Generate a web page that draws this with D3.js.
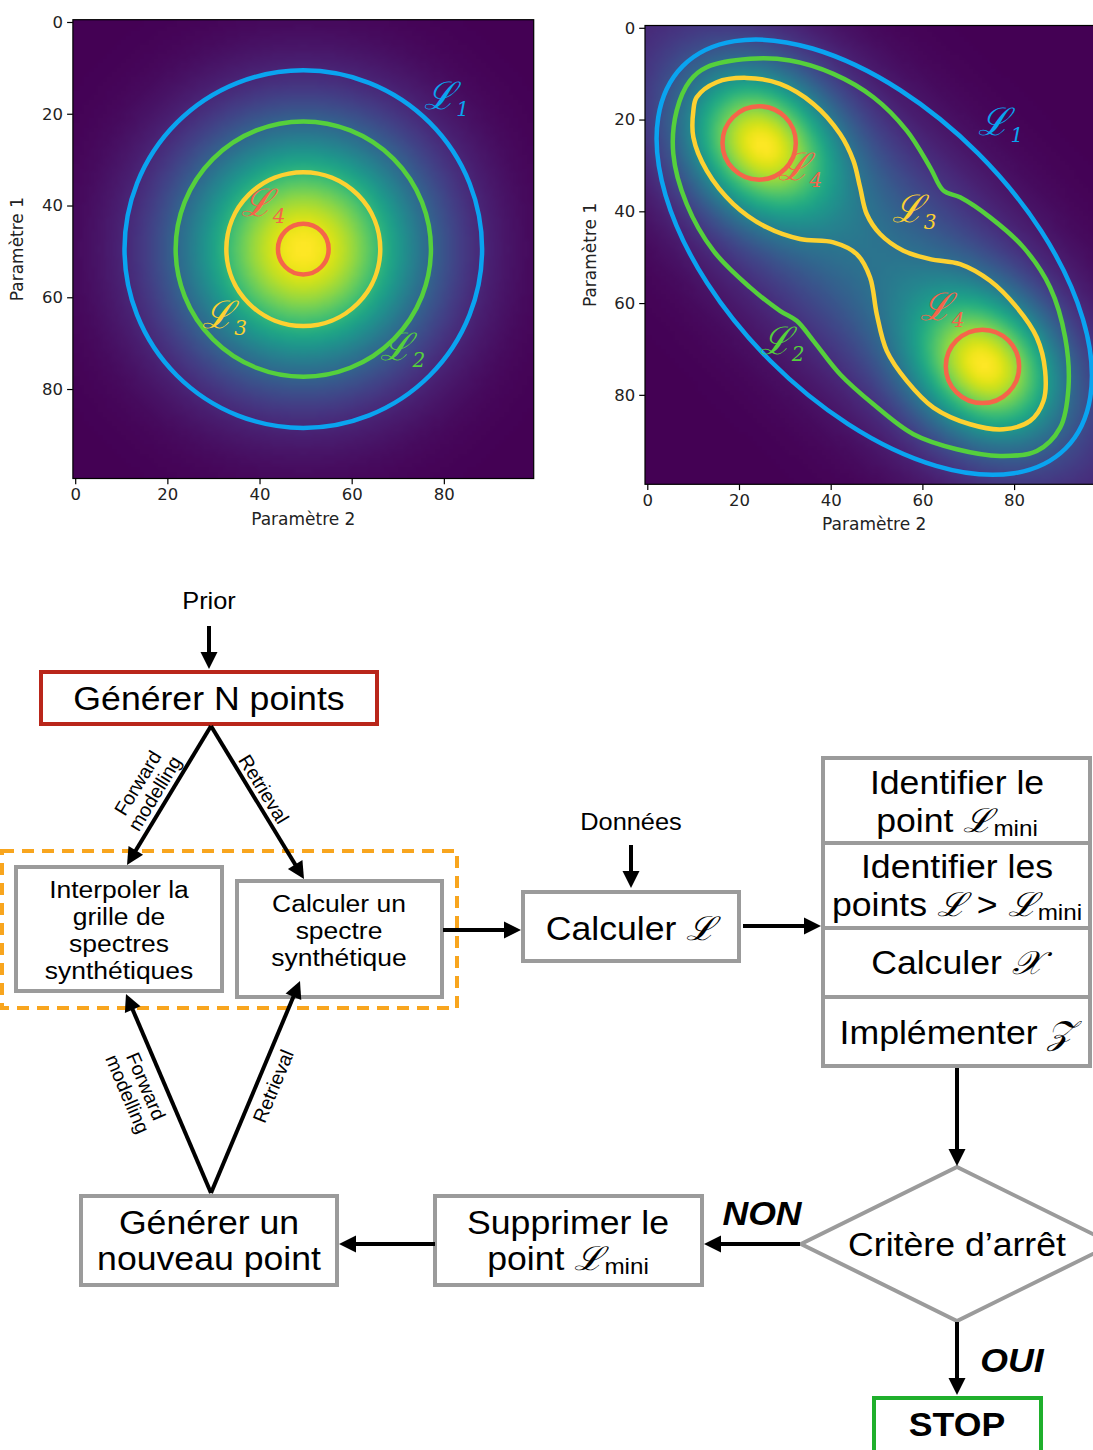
<!DOCTYPE html>
<html><head><meta charset="utf-8">
<script src="https://cdn.jsdelivr.net/npm/d3@7"></script>
<style>body{margin:0;background:#fff} svg{display:block}</style>
</head><body>
<script>
// ---------------- DATA ----------------
const gridSize = 100;
const tickValues = [0, 20, 40, 60, 80];
const xAxisLabel = "Paramètre 2";
const yAxisLabel = "Paramètre 1";
const contourSubs = ["1", "2", "3", "4"];
const contourColors = ["#0aa4f0", "#55d03c", "#fdd131", "#f5654a"];

// left panel : one round gaussian
const leftPeakCenter = [49.5, 49.5];          // [col,row]
const leftPeakSigma = 18.5;
const leftContourRadii = [38.8, 27.7, 16.7, 5.5];
const leftLabelPos = [[80.6, 16.5], [71.1, 71.2], [32.4, 64.2], [40.8, 39.8]];
const leftLabelIdx = [0, 1, 2, 3];

// right panel : two peaks + elongated background
const rightPeakCenters = [[24.5, 25], [74, 74]];
const rightPeakSigmas = [12, 10];            // along diagonal, across
const rightBackground = [0.5, 45, 16];       // amplitude, sigma along, sigma across
const rightOuterEllipse = [49.5, 50.0, 59, 32]; // col,row,semi-major,semi-minor (45°)
const rightGreen = [[12.96,8.59],[22.41,6.77],[31.14,7.14],[40.59,10.05],[49.32,15.14],[56.59,22.41],
  [61.68,30.41],[64.59,35.5],[68.23,36.95],[74.77,41.32],[82.05,47.86],[87.86,56.59],[91.14,67.5],
  [91.86,78.41],[90.05,87.14],[84.95,92.23],[76.95,93.32],[67.5,91.86],[58.05,88.59],[49.32,82.05],
  [42.05,75.5],[36.23,68.23],[32.59,63.86],[28.95,61.68],[22.41,56.59],[14.41,48.59],[8.59,38.41],
  [5.68,27.5],[6.41,18.05],[9.32,11.5]];
const rightYellow = [[10.77,15.14],[15.14,11.86],[21.68,10.92],[28.95,12.23],[36.23,16.59],[42.05,23.14],
  [44.95,28.95],[46.41,34.77],[47.86,40.59],[50.77,44.95],[55.86,48.59],[61.68,50.41],[68.23,51.5],
  [74.77,55.14],[80.59,60.95],[84.95,67.5],[86.77,74.77],[86.41,81.32],[83.5,85.68],[77.68,87.5],
  [70.41,86.41],[62.41,82.77],[56.59,76.95],[52.23,70.41],[50.05,62.41],[48.59,54.41],[45.68,49.32],
  [40.59,46.77],[33.32,46.05],[26.05,43.5],[18.77,38.41],[12.96,31.14],[10.05,23.86],[10.05,18.05]];
const rightRedCenters = [[24.4, 25.1], [73.1, 73.8]];
const rightRedRadius = 8.0;
const rightLabelPos = [[77.1, 21.0], [29.4, 68.6], [58.2, 40.0], [33.3, 30.8], [64.3, 61.3]];
const rightLabelIdx = [0, 1, 2, 3, 3];

// ---------------- SETUP ----------------
const W = 1093, H = 1450;
const svg = d3.select("body").append("svg").attr("width", W).attr("height", H)
  .style("background", "#fff");
const MPL = "DejaVu Sans";
const FLOW = "Liberation Sans, Arial, Helvetica, sans-serif";
const SCRIPT = "DejaVu Serif";
const SX = 1.08; // horizontal stretch of the flowchart lettering

function makePanel(box, fieldFn, ylabX) {
  const x = d3.scaleLinear().domain([-0.5, 99.5]).range([box[0], box[0] + box[2]]);
  const y = d3.scaleLinear().domain([-0.5, 99.5]).range([box[1], box[1] + box[3]]);
  const g = svg.append("g");
  const n = gridSize, vals = new Float64Array(n * n);
  for (let r = 0; r < n; r++) for (let c = 0; c < n; c++) vals[r * n + c] = fieldFn(c, r);
  const color = d3.scaleSequential(d3.interpolateViridis).domain(d3.extent(vals));
  const cv = document.createElement("canvas"); cv.width = n; cv.height = n;
  const ctx = cv.getContext("2d"); const im = ctx.createImageData(n, n);
  vals.forEach((v, i) => { const c = d3.rgb(color(v)); im.data[4*i] = c.r; im.data[4*i+1] = c.g; im.data[4*i+2] = c.b; im.data[4*i+3] = 255; });
  ctx.putImageData(im, 0, 0);
  g.append("image").attr("x", x(-0.5)).attr("y", y(-0.5))
    .attr("width", x(99.5) - x(-0.5)).attr("height", y(99.5) - y(-0.5))
    .attr("preserveAspectRatio", "none").attr("href", cv.toDataURL());
  const ax = g.append("g").attr("transform", `translate(0,${y(99.5)})`)
    .call(d3.axisBottom(x).tickValues(tickValues).tickSize(5.8).tickPadding(4).tickFormat(d3.format("d")));
  const ay = g.append("g").attr("transform", `translate(${x(-0.5)},0)`)
    .call(d3.axisLeft(y).tickValues(tickValues).tickSize(5.8).tickPadding(4).tickFormat(d3.format("d")));
  [ax, ay].forEach(a => {
    a.select(".domain").remove();
    a.selectAll("line").attr("stroke", "#000").attr("stroke-width", 1.2);
    a.selectAll("text").attr("font-family", MPL).attr("font-size", 16.5).attr("fill", "#222");
  });
  g.append("rect").attr("x", x(-0.5)).attr("y", y(-0.5))
    .attr("width", x(99.5) - x(-0.5)).attr("height", y(99.5) - y(-0.5))
    .attr("fill", "none").attr("stroke", "#000").attr("stroke-width", 1.2);
  g.append("text").attr("x", (x(-0.5) + x(99.5)) / 2).attr("y", y(99.5) + 46)
    .attr("text-anchor", "middle").attr("font-family", MPL).attr("font-size", 17).attr("fill", "#222").text(xAxisLabel);
  g.append("text").attr("transform", `translate(${ylabX},${(y(-0.5) + y(99.5)) / 2}) rotate(-90)`)
    .attr("text-anchor", "middle").attr("font-family", MPL).attr("font-size", 17).attr("fill", "#222").text(yAxisLabel);
  return { g, x, y };
}

function drawLabel(p, pos, idx) {
  const t = p.g.append("text").attr("x", p.x(pos[0])).attr("y", p.y(pos[1]) + 11)
    .attr("text-anchor", "middle").attr("fill", contourColors[idx])
    .attr("font-family", SCRIPT).attr("font-style", "italic").attr("font-size", 38);
  t.append("tspan").text("ℒ");
  t.append("tspan").attr("font-size", 20).attr("dy", 7).text(contourSubs[idx]);
}

// ---------------- LEFT PANEL ----------------
const leftField = (c, r) => Math.exp(-((c - leftPeakCenter[0]) ** 2 + (r - leftPeakCenter[1]) ** 2) / (2 * leftPeakSigma ** 2));
const L = makePanel([72.9, 19.7, 460.8, 458.8], leftField, 23);
L.g.selectAll("circle.cont").data(leftContourRadii).join("circle")
  .attr("cx", L.x(leftPeakCenter[0])).attr("cy", L.y(leftPeakCenter[1]))
  .attr("r", d => L.x(leftPeakCenter[0] + d) - L.x(leftPeakCenter[0]))
  .attr("fill", "none").attr("stroke", (d, i) => contourColors[i]).attr("stroke-width", 4.5);
leftLabelPos.forEach((p, i) => drawLabel(L, p, leftLabelIdx[i]));

// ---------------- RIGHT PANEL ----------------
const S2 = Math.SQRT2;
const rightField = (c, r) => {
  let v = 0;
  rightPeakCenters.forEach(pc => {
    const dc = c - pc[0], dr = r - pc[1];
    const u = (dc + dr) / S2, w = (dc - dr) / S2;
    v += Math.exp(-(u * u) / (2 * rightPeakSigmas[0] ** 2) - (w * w) / (2 * rightPeakSigmas[1] ** 2));
  });
  const dc = c - 49.5, dr = r - 49.5;
  const u = (dc + dr) / S2, w = (dc - dr) / S2;
  v += rightBackground[0] * Math.exp(-(u * u) / (2 * rightBackground[1] ** 2) - (w * w) / (2 * rightBackground[2] ** 2));
  return v;
};
const R = makePanel([645, 25.5, 458.5, 458.8], rightField, 596);
const [ec, er, ea, eb] = rightOuterEllipse;
R.g.append("ellipse").attr("cx", R.x(ec)).attr("cy", R.y(er))
  .attr("rx", R.x(ec + ea) - R.x(ec)).attr("ry", R.y(er + eb) - R.y(er))
  .attr("transform", `rotate(45,${R.x(ec)},${R.y(er)})`)
  .attr("fill", "none").attr("stroke", contourColors[0]).attr("stroke-width", 4.5);
const closedLine = d3.line().x(d => R.x(d[0])).y(d => R.y(d[1])).curve(d3.curveCatmullRomClosed.alpha(0.5));
R.g.append("path").attr("d", closedLine(rightGreen)).attr("fill", "none").attr("stroke", contourColors[1]).attr("stroke-width", 4.5);
R.g.append("path").attr("d", closedLine(rightYellow)).attr("fill", "none").attr("stroke", contourColors[2]).attr("stroke-width", 4.5);
R.g.selectAll("circle.red").data(rightRedCenters).join("circle")
  .attr("cx", d => R.x(d[0])).attr("cy", d => R.y(d[1]))
  .attr("r", R.x(rightRedRadius) - R.x(0))
  .attr("fill", "none").attr("stroke", contourColors[3]).attr("stroke-width", 4.5);
rightLabelPos.forEach((p, i) => drawLabel(R, p, rightLabelIdx[i]));

// ---------------- FLOWCHART ----------------
const GRAY = "#9b9b9b";
const fc = svg.append("g");
fc.append("rect").attr("x", 2).attr("y", 851).attr("width", 455).attr("height", 157)
  .attr("fill", "none").attr("stroke", "#f8a51e").attr("stroke-width", 4).attr("stroke-dasharray", "12,8");

// boxes: [x,y,w,h,stroke]
const boxes = [
  [41, 672, 336, 52, "#b9261a"],
  [16, 867, 206, 124, GRAY],
  [237, 881, 205, 116, GRAY],
  [523, 892, 216, 69, GRAY],
  [823, 758, 267, 85, GRAY],
  [823, 843, 267, 85, GRAY],
  [823, 928, 267, 69, GRAY],
  [823, 997, 267, 69, GRAY],
  [435, 1196, 267, 89, GRAY],
  [81, 1196, 256, 89, GRAY],
  [874, 1398, 167, 60, "#1faf2c"]
];
fc.selectAll("rect.box").data(boxes).join("rect")
  .attr("x", d => d[0]).attr("y", d => d[1]).attr("width", d => d[2]).attr("height", d => d[3])
  .attr("fill", "#fff").attr("stroke", d => d[4]).attr("stroke-width", 4);
fc.append("path").attr("d", "M957,1167 L1113,1244 L957,1321 L801,1244 Z")
  .attr("fill", "#fff").attr("stroke", GRAY).attr("stroke-width", 4);

// texts: [cx, cy, size, segments, weight, style]
const texts = [
  [209, 601, 23.5, [["Prior", "n"]]],
  [631, 822, 23.5, [["Données", "n"]]],
  [209, 698, 33, [["Générer N points", "n"]]],
  [119, 889, 24.5, [["Interpoler la", "n"]]],
  [119, 916, 24.5, [["grille de", "n"]]],
  [119, 943, 24.5, [["spectres", "n"]]],
  [119, 970, 24.5, [["synthétiques", "n"]]],
  [339, 903, 24.5, [["Calculer un", "n"]]],
  [339, 930, 24.5, [["spectre", "n"]]],
  [339, 957, 24.5, [["synthétique", "n"]]],
  [631, 928, 33, [["Calculer ", "n"], ["ℒ", "L"]]],
  [957, 782, 33, [["Identifier le", "n"]]],
  [957, 820, 33, [["point ", "n"], ["ℒ", "L"], ["mini", "s"]]],
  [957, 866, 33, [["Identifier les", "n"]]],
  [957, 904, 33, [["points  ", "n"], ["ℒ", "L"], [" > ", "n"], ["ℒ", "L"], ["mini", "s"]]],
  [957, 962, 33, [["Calculer ", "n"], ["𝒳", "L"]]],
  [957, 1032, 33, [["Implémenter ", "n"], ["𝒵", "L"]]],
  [957, 1244, 33, [["Critère d’arrêt", "n"]]],
  [568, 1222, 33, [["Supprimer le", "n"]]],
  [568, 1258, 33, [["point ", "n"], ["ℒ", "L"], ["mini", "s"]]],
  [209, 1222, 33, [["Générer un", "n"]]],
  [209, 1258, 33, [["nouveau point", "n"]]],
  [762, 1213, 33, [["NON", "n"]], "bold", "italic"],
  [1012, 1360, 33, [["OUI", "n"]], "bold", "italic"],
  [957, 1424, 33, [["STOP", "n"]], "bold", "normal"]
];
texts.forEach(t => {
  const el = fc.append("text").attr("transform", `translate(${t[0]},${t[1]}) scale(${SX},1)`)
    .attr("dy", "0.36em").attr("text-anchor", "middle").attr("font-family", FLOW)
    .attr("font-size", t[2]).attr("fill", "#000")
    .attr("font-weight", t[4] || "normal").attr("font-style", t[5] || "normal");
  t[3].forEach(s => {
    const ts = el.append("tspan").text(s[0]);
    if (s[1] === "L") ts.attr("font-family", SCRIPT).attr("font-style", "italic");
    if (s[1] === "s") ts.attr("font-size", t[2] * 0.68).attr("dy", 4);
  });
});

// arrows [x1,y1,x2,y2] (x2,y2 = tip)
const arrows = [
  [209, 626, 209, 669], [211, 726, 127, 865], [211, 726, 304, 879], [443, 930, 521, 930],
  [631, 845, 631, 888], [743, 926, 821, 926], [957, 1068, 957, 1166], [800, 1244, 704, 1244],
  [435, 1244, 339, 1244], [211, 1193, 126, 994], [211, 1193, 300, 981], [957, 1322, 957, 1395]
];
arrows.forEach(a => {
  const [x1, y1, x2, y2] = a, len = Math.hypot(x2 - x1, y2 - y1);
  const ux = (x2 - x1) / len, uy = (y2 - y1) / len, hl = 17, hw = 8.5;
  const bx = x2 - ux * hl, by = y2 - uy * hl;
  fc.append("line").attr("x1", x1).attr("y1", y1).attr("x2", bx + ux).attr("y2", by + uy)
    .attr("stroke", "#000").attr("stroke-width", 4);
  fc.append("path").attr("d", `M${x2},${y2} L${bx - uy * hw},${by + ux * hw} L${bx + uy * hw},${by - ux * hw} Z`).attr("fill", "#000");
});

// rotated arrow labels: [cx, cy, angle, lines]
const arrowLabels = [
  [146, 788, -58.7, ["Forward", "modelling"]],
  [264, 789, 58.4, ["Retrieval"]],
  [137, 1090, 67, ["Forward", "modelling"]],
  [273, 1086, -67.5, ["Retrieval"]]
];
arrowLabels.forEach(l => {
  const g = fc.append("g").attr("transform", `translate(${l[0]},${l[1]}) rotate(${l[2]})`);
  l[3].forEach((s, i) => g.append("text").attr("x", 0).attr("y", (i - (l[3].length - 1) / 2) * 20).attr("dy", "0.36em")
    .attr("text-anchor", "middle").attr("font-family", FLOW).attr("font-size", 19.5).text(s));
});
</script>
</body></html>
